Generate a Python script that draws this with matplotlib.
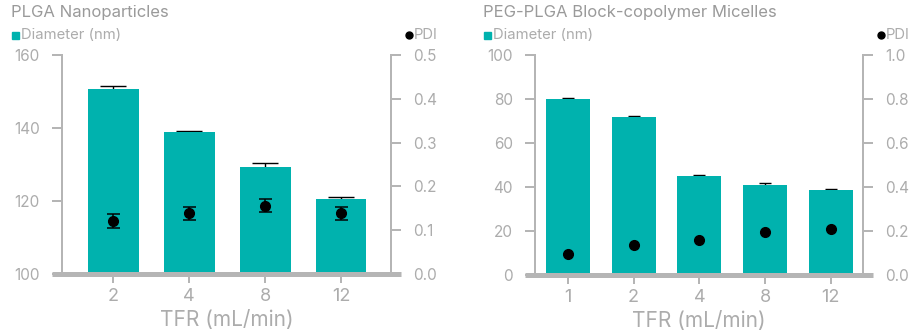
import matplotlib
matplotlib.use("Agg")
import matplotlib.pyplot as plt
from matplotlib.patches import Rectangle
from matplotlib.lines import Line2D

plt.rcParams['font.family'] = ['Inter', 'DejaVu Sans']

# ---- data ----
plga_tfr = ["2", "4", "8", "12"]
plga_diameter = [150.7, 138.9, 129.3, 120.5]
plga_diameter_err = [0.9, 0.4, 1.1, 0.7]
plga_pdi = [0.122, 0.139, 0.156, 0.139]
plga_pdi_err = [0.016, 0.015, 0.015, 0.015]

micelle_tfr = ["1", "2", "4", "8", "12"]
micelle_diameter = [80.0, 71.8, 45.0, 40.9, 38.6]
micelle_diameter_err = [0.6, 0.6, 0.45, 1.0, 0.6]
micelle_pdi = [0.097, 0.135, 0.160, 0.197, 0.210]

plga_yticks = [100, 120, 140, 160]
plga_y2ticks = [0.0, 0.1, 0.2, 0.3, 0.4, 0.5]
micelle_yticks = [0, 20, 40, 60, 80, 100]
micelle_y2ticks = [0.0, 0.2, 0.4, 0.6, 0.8, 1.0]

# ---- style ----
TEAL = "#00b2ae"
AXIS = "#b5b5b5"
TEXT = "#acacac"
TITLE = "#9a9a9a"
W, H = 912, 335
PX = 72 / 100  # points per pixel

fig = plt.figure(figsize=(W / 100, H / 100), dpi=100)


def fx(x):
    return x / W


def fy(y):
    return 1 - y / H


def panel(x0, x1, ytop, ybot, cats, diam, diam_err, pdi, pdi_err,
          yticks, y2ticks, xlim, bar_cap, title, title_x,
          leg_x, pdi_leg_x):
    ax = fig.add_axes([fx(x0), fy(ybot), fx(x1 - x0), (ybot - ytop) / H])
    pos = list(range(len(cats)))

    ax.errorbar(pos, diam, yerr=diam_err, fmt="none", ecolor="black",
                elinewidth=1.4 * PX, capsize=bar_cap, capthick=1.4 * PX,
                zorder=1)
    ax.bar(pos, diam, width=0.67, color=TEAL, zorder=2)
    ax.set_ylim(yticks[0], yticks[-1])
    ax.set_xlim(*xlim)
    ax.set_yticks(yticks)
    ax.set_xticks(pos)
    ax.set_xticklabels(cats)

    for s in ("top", "right", "bottom"):
        ax.spines[s].set_visible(False)
    ax.spines["left"].set_color(AXIS)
    ax.spines["left"].set_linewidth(2 * PX)
    ax.tick_params(axis="y", length=10 * PX, width=2 * PX, color=AXIS,
                   labelcolor=TEXT, labelsize=11, pad=12 * PX)
    ax.tick_params(axis="x", length=9 * PX, width=2 * PX, color=AXIS,
                   labelcolor=TEXT, labelsize=13, pad=3.5)
    ax.set_xlabel("TFR (mL/min)", color=TEXT, fontsize=15, labelpad=3.5)

    # thick baseline running past both spines
    ext = 10 / (x1 - x0)
    ax.axhline(yticks[0], xmin=-ext, xmax=1 + ext, color=AXIS,
               linewidth=5 * PX, clip_on=False, zorder=3,
               solid_capstyle="butt")

    ax2 = ax.twinx()
    if pdi_err is not None:
        ax2.errorbar(pos, pdi, yerr=pdi_err, fmt="o", color="black",
                     markersize=7, elinewidth=1.5 * PX, capsize=6.5 * PX,
                     capthick=1.5 * PX, zorder=4)
    else:
        ax2.plot(pos, pdi, "o", color="black", markersize=7, zorder=4)
    ax2.set_ylim(y2ticks[0], y2ticks[-1])
    ax2.set_yticks(y2ticks)
    ax2.set_yticklabels([f"{v:.1f}" for v in y2ticks])
    for s in ("top", "left", "bottom"):
        ax2.spines[s].set_visible(False)
    ax2.spines["right"].set_color(AXIS)
    ax2.spines["right"].set_linewidth(2 * PX)
    ax2.tick_params(axis="y", length=10 * PX, width=2 * PX, color=AXIS,
                    labelcolor=TEXT, labelsize=11, pad=12 * PX)

    # title and legend entries
    fig.text(fx(title_x), fy(13), title, color=TITLE, fontsize=12,
             ha="left", va="center")
    fig.add_artist(Rectangle((fx(leg_x), fy(38.5)), fx(7), 7 / H,
                             transform=fig.transFigure, color=TEAL))
    fig.text(fx(leg_x + 9), fy(35), "Diameter (nm)", color=TEXT,
             fontsize=10.7, ha="left", va="center")
    fig.add_artist(Line2D([fx(pdi_leg_x)], [fy(35)], marker="o",
                          markersize=5, color="black",
                          transform=fig.transFigure))
    fig.text(fx(pdi_leg_x + 5), fy(35), "PDI", color=TEXT,
             fontsize=10.7, ha="left", va="center")
    return ax, ax2


panel(62, 391, 55, 274, plga_tfr, plga_diameter, plga_diameter_err,
      plga_pdi, plga_pdi_err, plga_yticks, plga_y2ticks,
      (-0.678, 3.66), 13 * PX, "PLGA Nanoparticles", 11, 12, 409)

panel(535, 863, 55, 275, micelle_tfr, micelle_diameter,
      micelle_diameter_err, micelle_pdi, None, micelle_yticks,
      micelle_y2ticks, (-0.50, 4.49), 6 * PX,
      "PEG-PLGA Block-copolymer Micelles", 483, 484, 881)

fig.savefig("out.png", dpi=100)
